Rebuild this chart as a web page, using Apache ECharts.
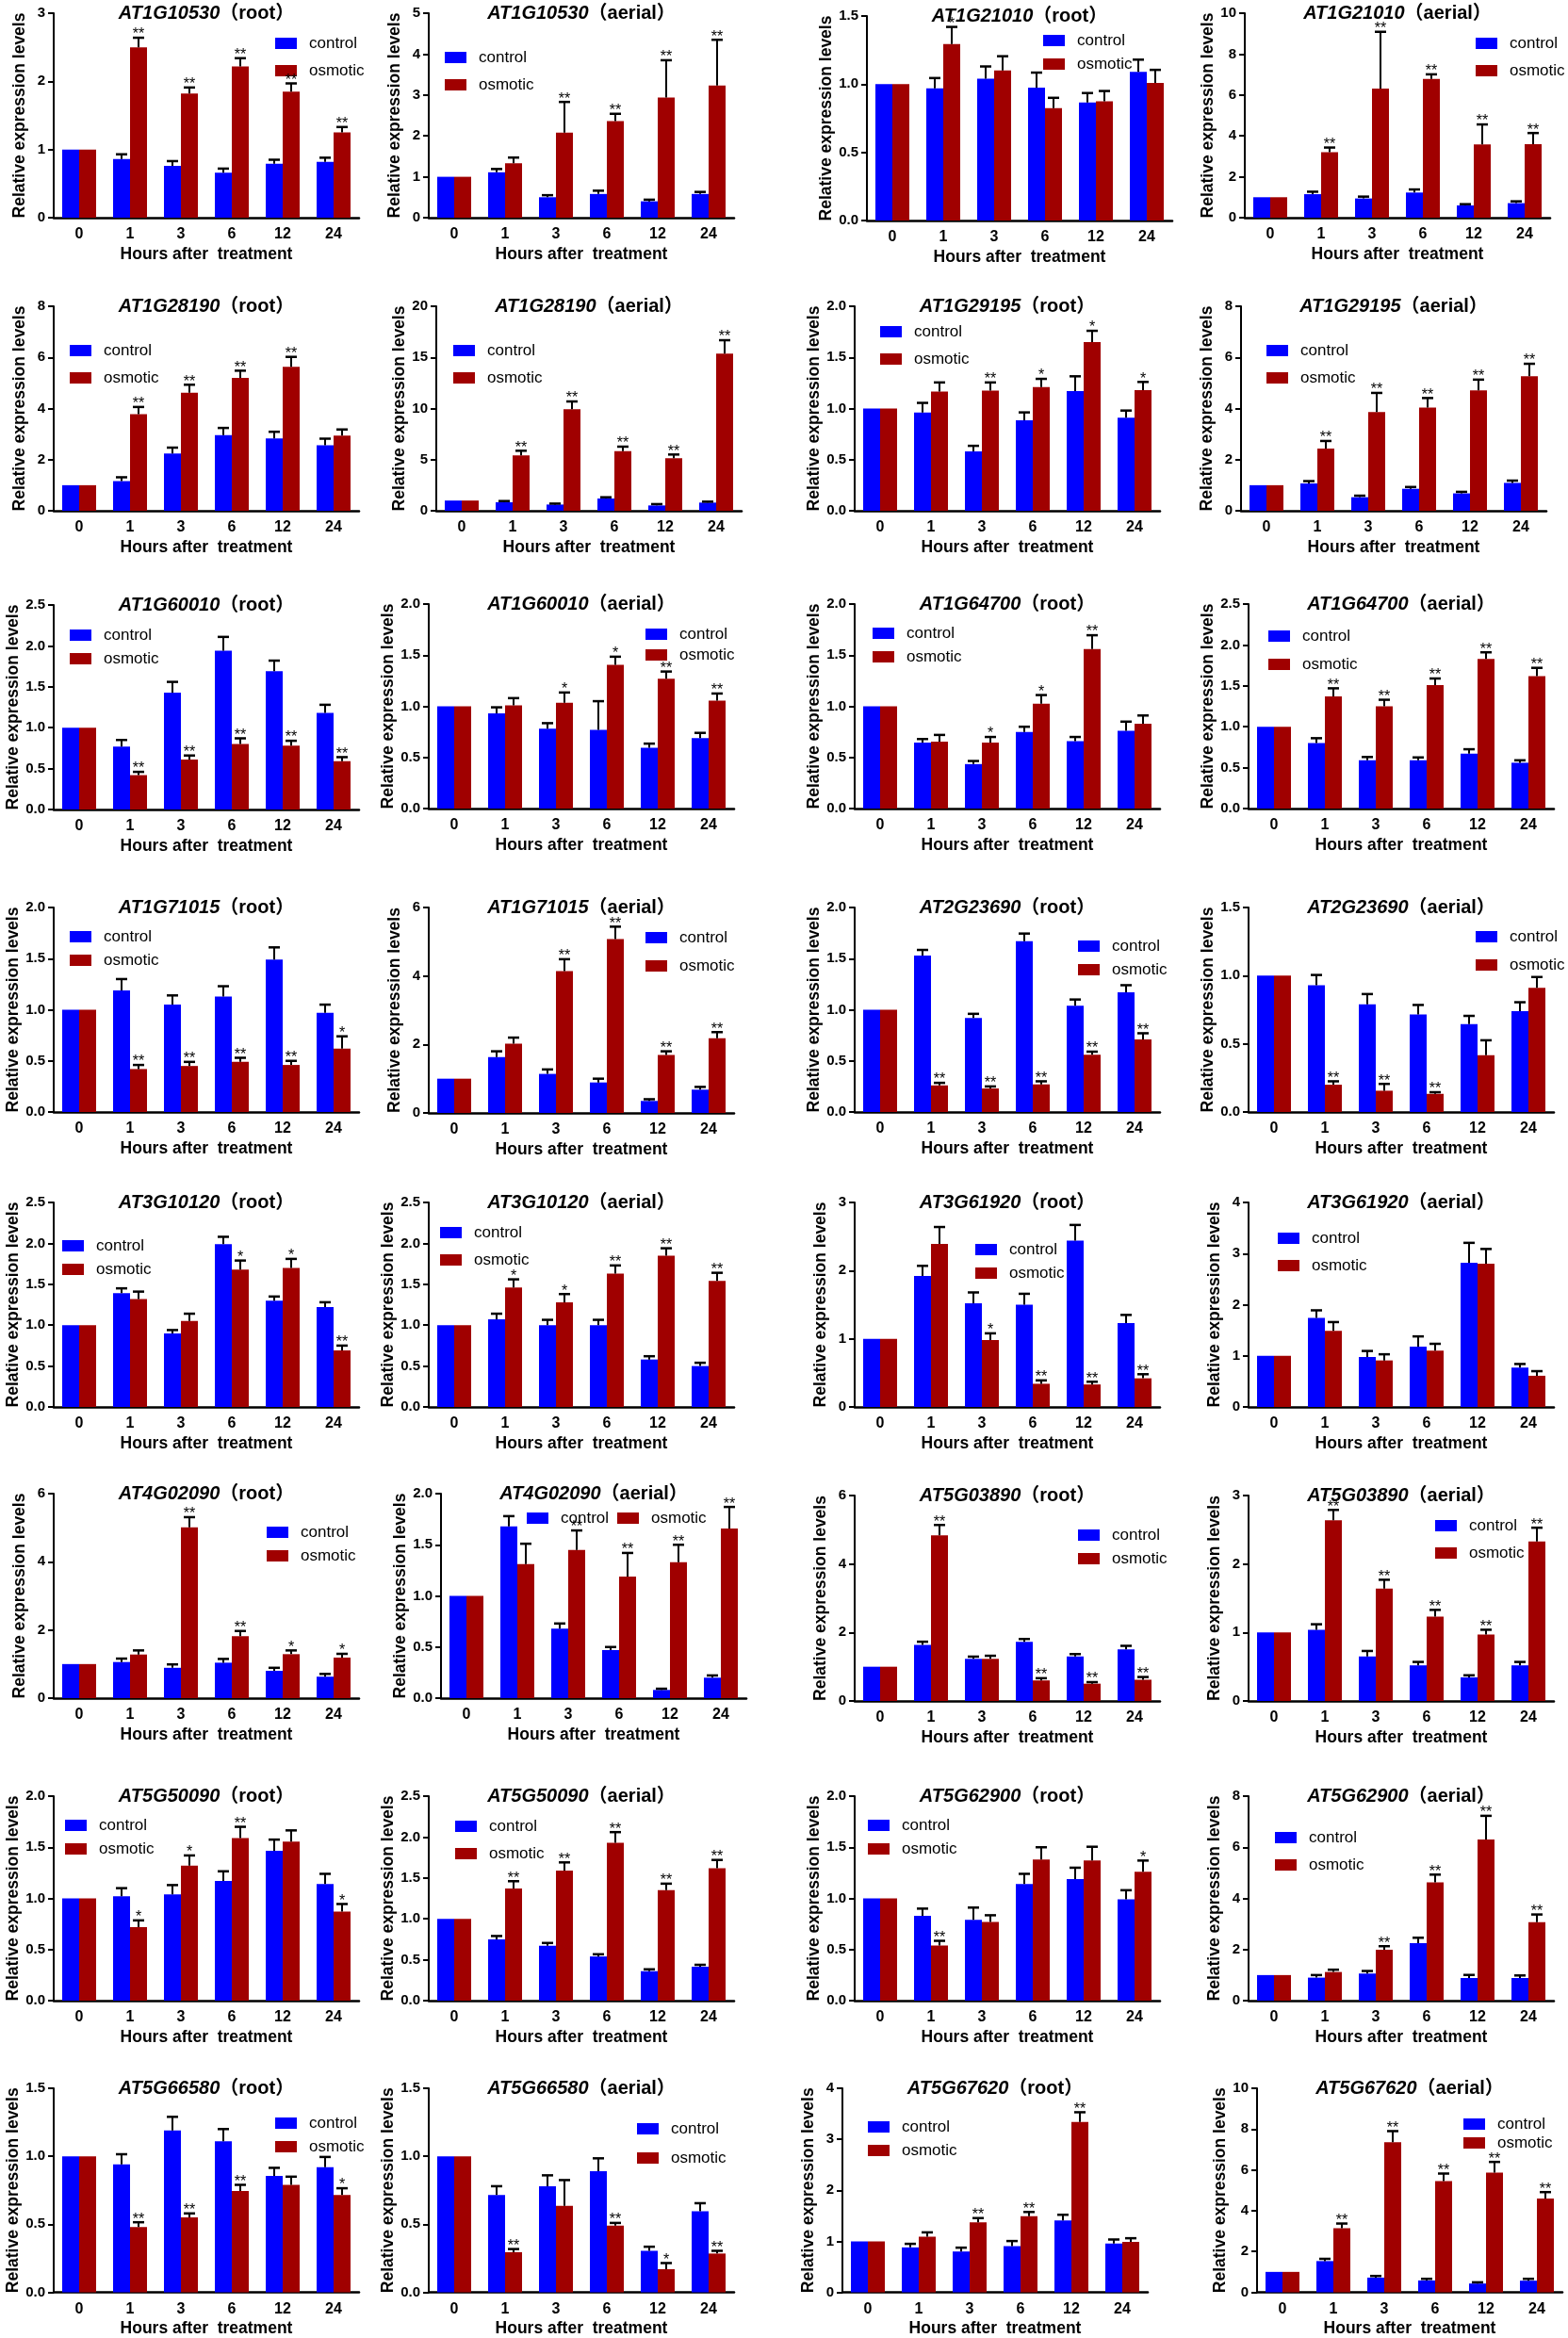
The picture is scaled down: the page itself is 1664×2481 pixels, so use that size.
<!DOCTYPE html>
<html><head><meta charset="utf-8">
<script src="https://cdn.jsdelivr.net/npm/echarts@6/dist/echarts.min.js"></script>
<style>html,body{margin:0;padding:0;background:#fff}#c{width:1664px;height:2481px}</style>
</head><body><div id="c"></div>
<script>
// ---------------- DATA ----------------
const hours = ['0', '1', '3', '6', '12', '24'];
const genes = ['AT1G10530','AT1G10530','AT1G21010','AT1G21010','AT1G28190','AT1G28190','AT1G29195','AT1G29195',
  'AT1G60010','AT1G60010','AT1G64700','AT1G64700','AT1G71015','AT1G71015','AT2G23690','AT2G23690',
  'AT3G10120','AT3G10120','AT3G61920','AT3G61920','AT4G02090','AT4G02090','AT5G03890','AT5G03890',
  'AT5G50090','AT5G50090','AT5G62900','AT5G62900','AT5G66580','AT5G66580','AT5G67620','AT5G67620'];
const tissues = ['root','aerial','root','aerial','root','aerial','root','aerial','root','aerial','root','aerial',
  'root','aerial','root','aerial','root','aerial','root','aerial','root','aerial','root','aerial',
  'root','aerial','root','aerial','root','aerial','root','aerial'];
const yMax = [3,5,1.5,10, 8,20,2,8, 2.5,2,2,2.5, 2,6,2,1.5, 2.5,2.5,3,4, 6,2,6,3, 2,2.5,2,8, 1.5,1.5,4,10];
const yStep = [1,1,0.5,2, 2,5,0.5,2, 0.5,0.5,0.5,0.5, 0.5,2,0.5,0.5, 0.5,0.5,1,1, 2,0.5,2,1, 0.5,0.5,0.5,2, 0.5,0.5,1,2];

const controlMean = [
  [1,0.86,0.76,0.66,0.79,0.82],[1,1.11,0.50,0.58,0.40,0.58],[1,0.97,1.04,0.975,0.865,1.09],[1,1.15,0.94,1.23,0.60,0.71],
  [1,1.16,2.24,2.96,2.83,2.56],[1,0.83,0.61,1.20,0.52,0.80],[1,0.96,0.58,0.885,1.17,0.91],[1,1.07,0.53,0.86,0.68,1.09],
  [1,0.77,1.43,1.94,1.69,1.18],[1,0.93,0.78,0.77,0.595,0.69],[1,0.645,0.435,0.75,0.66,0.76],[1,0.80,0.59,0.59,0.67,0.56],
  [1,1.19,1.05,1.13,1.49,0.97],[1,1.63,1.14,0.89,0.35,0.68],[1,1.53,0.92,1.67,1.04,1.17],[1,0.93,0.79,0.715,0.645,0.74],
  [1,1.39,0.90,1.99,1.30,1.22],[1,1.07,1.00,1.00,0.58,0.50],[1,1.92,1.52,1.50,2.44,1.23],[1,1.74,0.975,1.18,2.82,0.77],
  [1,1.06,0.89,1.04,0.80,0.63],[1,1.68,0.68,0.47,0.08,0.20],[1,1.64,1.23,1.73,1.30,1.51],[1,1.04,0.65,0.52,0.345,0.52],
  [1,1.02,1.04,1.17,1.465,1.14],[1,0.75,0.67,0.54,0.36,0.415],[1,0.83,0.79,1.14,1.19,0.99],[1,0.90,1.06,2.25,0.885,0.885],
  [1,0.94,1.19,1.11,0.855,0.92],[1,0.715,0.78,0.89,0.305,0.595],[1,0.88,0.80,0.905,1.41,0.955],[1,1.53,0.72,0.58,0.43,0.57]
];
const controlErr = [
  [0,0.07,0.07,0.06,0.06,0.06],[0,0.08,0.05,0.08,0.04,0.05],[0,0.075,0.09,0.11,0.07,0.09],[0,0.12,0.09,0.15,0.06,0.09],
  [0,0.15,0.23,0.28,0.26,0.26],[0,0.12,0.09,0.12,0.13,0.09],[0,0.095,0.055,0.077,0.145,0.07],[0,0.09,0.06,0.07,0.06,0.09],
  [0,0.08,0.13,0.17,0.13,0.10],[0,0.06,0.055,0.28,0.04,0.05],[0,0.035,0.03,0.05,0.04,0.09],[0,0.06,0.04,0.035,0.055,0.03],
  [0,0.11,0.09,0.10,0.12,0.08],[0,0.17,0.13,0.11,0.05,0.08],[0,0.055,0.04,0.075,0.06,0.07],[0,0.075,0.075,0.07,0.06,0.065],
  [0,0.06,0.04,0.09,0.05,0.06],[0,0.07,0.065,0.065,0.04,0.04],[0,0.15,0.16,0.16,0.23,0.12],[0,0.15,0.12,0.20,0.39,0.07],
  [0,0.10,0.10,0.11,0.09,0.08],[0,0.10,0.05,0.03,0.012,0.022],[0,0.09,0.065,0.08,0.07,0.10],[0,0.08,0.08,0.05,0.03,0.05],
  [0,0.08,0.09,0.095,0.11,0.10],[0,0.04,0.035,0.027,0.023,0.023],[0,0.07,0.12,0.10,0.11,0.09],[0,0.10,0.10,0.21,0.12,0.10],
  [0,0.075,0.10,0.09,0.06,0.075],[0,0.065,0.08,0.095,0.03,0.06],[0,0.07,0.075,0.10,0.11,0.08],[0,0.11,0.08,0.08,0.06,0.09]
];
const osmoticMean = [
  [1,2.50,1.82,2.22,1.85,1.25],[1,1.33,2.08,2.36,2.94,3.23],[1,1.295,1.10,0.825,0.875,1.01],[1,3.20,6.31,6.79,3.58,3.59],
  [1,3.78,4.62,5.20,5.63,2.94],[1,5.41,9.92,5.84,5.13,15.36],[1,1.165,1.175,1.21,1.65,1.18],[1,2.43,3.86,4.04,4.71,5.26],
  [1,0.42,0.61,0.80,0.78,0.59],[1,1.01,1.035,1.405,1.27,1.055],[1,0.655,0.645,1.025,1.56,0.83],[1,1.37,1.25,1.51,1.83,1.62],
  [1,0.42,0.45,0.49,0.46,0.62],[1,2.02,4.14,5.08,1.69,2.18],[1,0.26,0.23,0.27,0.56,0.71],[1,0.20,0.156,0.133,0.416,0.91],
  [1,1.32,1.05,1.68,1.70,0.69],[1,1.46,1.28,1.63,1.85,1.54],[1,2.39,0.98,0.34,0.33,0.42],[1,1.49,0.91,1.10,2.80,0.61],
  [1,1.28,5.01,1.82,1.29,1.19],[1,1.31,1.45,1.19,1.33,1.66],[1,4.84,1.23,0.60,0.505,0.62],[1,2.64,1.64,1.23,0.97,2.33],
  [1,0.72,1.32,1.59,1.555,0.87],[1,1.37,1.59,1.93,1.35,1.62],[1,0.54,0.77,1.38,1.37,1.26],[1,1.12,1.99,4.63,6.30,3.07],
  [1,0.48,0.55,0.745,0.79,0.715],[1,0.295,0.635,0.49,0.17,0.285],[1,1.09,1.37,1.49,3.34,0.99],[1,3.14,7.35,5.45,5.87,4.60]
];
const osmoticErr = [
  [0,0.14,0.09,0.12,0.12,0.08],[0,0.14,0.75,0.18,0.91,1.12],[0,0.125,0.105,0.075,0.075,0.095],[0,0.23,2.78,0.22,0.98,0.55],
  [0,0.28,0.31,0.28,0.39,0.24],[0,0.46,0.77,0.43,0.37,1.32],[0,0.09,0.08,0.08,0.11,0.08],[0,0.30,0.75,0.37,0.42,0.49],
  [0,0.04,0.05,0.07,0.06,0.05],[0,0.07,0.10,0.08,0.07,0.07],[0,0.065,0.055,0.085,0.135,0.08],[0,0.10,0.08,0.08,0.08,0.10],
  [0,0.04,0.04,0.04,0.04,0.12],[0,0.18,0.35,0.36,0.11,0.18],[0,0.025,0.02,0.03,0.03,0.06],[0,0.025,0.05,0.012,0.11,0.08],
  [0,0.09,0.09,0.11,0.11,0.06],[0,0.10,0.10,0.10,0.09,0.10],[0,0.25,0.10,0.05,0.04,0.06],[0,0.17,0.12,0.135,0.29,0.09],
  [0,0.12,0.30,0.15,0.11,0.11],[0,0.20,0.19,0.23,0.17,0.21],[0,0.30,0.09,0.065,0.045,0.08],[0,0.15,0.13,0.10,0.07,0.20],
  [0,0.065,0.10,0.11,0.11,0.075],[0,0.09,0.10,0.13,0.08,0.10],[0,0.045,0.065,0.12,0.135,0.11],[0,0.09,0.14,0.30,0.93,0.30],
  [0,0.035,0.03,0.045,0.06,0.05],[0,0.023,0.19,0.02,0.045,0.02],[0,0.085,0.085,0.085,0.19,0.07],[0,0.23,0.55,0.37,0.52,0.31]
];
const osmoticSig = [
  ['','**','**','**','**','**'],['','','**','**','**','**'],['','*','','','',''],['','**','**','**','**','**'],
  ['','**','**','**','**',''],['','**','**','**','**','**'],['','','**','*','*','*'],['','**','**','**','**','**'],
  ['','**','**','**','**','**'],['','','*','*','**','**'],['','','*','*','**',''],['','**','**','**','**','**'],
  ['','**','**','**','**','*'],['','','**','**','**','**'],['','**','**','**','**','**'],['','**','**','**','',''],
  ['','','','*','*','**'],['','*','*','**','**','**'],['','','*','**','**','**'],['','','','','',''],
  ['','','**','**','*','*'],['','','**','**','**','**'],['','**','','**','**','**'],['','**','**','**','**','**'],
  ['','*','*','**','','*'],['','**','**','**','**','**'],['','**','','','','*'],['','','**','**','**','**'],
  ['','**','**','**','','*'],['','**','','**','*','**'],['','','**','**','**',''],['','**','**','**','**','**']
];

// ---------------- LAYOUT (pixels) ----------------
// [center of first category, plot top, plot bottom]
const panelLayout = [
  [84,14,231],[482,14,231],[947,17,234],[1348,14,231],
  [84,325,542],[490,325,542],[934,325,542],[1344,325,542],
  [84,642,859],[482,641,858],[934,641,858],[1352,641,858],
  [84,963,1180],[482,963,1181],[934,963,1180],[1352,963,1180],
  [84,1276,1493],[482,1276,1493],[934,1276,1493],[1352,1276,1493],
  [84,1585,1802],[495,1585,1802],[934,1587,1805],[1352,1587,1805],
  [84,1906,2123],[482,1906,2123],[934,1906,2123],[1352,1906,2123],
  [84,2216,2433],[482,2216,2433],[921,2216,2433],[1361,2216,2433]
];
// [box left, control box centre y, osmotic box centre y, horizontal]
const legendLayout = [
  [292,46,75],[472,61,90],[1107,43,68],[1566,46,75],
  [74,372,401],[481,372,401],[934,352,381],[1344,372,401],
  [74,674,699],[685,673,695],[926,672,697],[1346,675,705],
  [74,994,1019],[685,995,1025],[1144,1004,1029],[1566,994,1024],
  [66,1322,1347],[467,1308,1337],[1035,1326,1351],[1356,1314,1343],
  [283,1626,1651],[559,1611,1611,true],[1144,1629,1654],[1523,1619,1648],
  [69,1937,1962],[483,1938,1967],[921,1937,1962],[1353,1950,1979],
  [292,2253,2278],[676,2259,2290],[921,2257,2282],[1553,2254,2274]
];

const FONT = "'Liberation Sans', Arial, 'Noto Sans CJK SC', sans-serif";
const BLUE = '#0000FF', RED = '#A00000';
const BAND = 54, BARW = 18;

function errSeries(p, means, errs, sig, side) {
  return {
    type: 'custom', xAxisIndex: p, yAxisIndex: p, z: 5, silent: true,
    data: means.map((m, i) => [i, m, m + errs[i]]),
    renderItem(params, api) {
      const i = api.value(0), m = api.value(1), t = api.value(2);
      const pb = api.coord([i, m]), pt = api.coord([i, t]);
      const x = pb[0] + side * BARW / 2;
      const children = [];
      if (t > m) {
        children.push({type: 'line', shape: {x1: x, y1: pb[1], x2: x, y2: pt[1]}, style: {stroke: '#000', lineWidth: 2}});
        children.push({type: 'line', shape: {x1: x - 6, y1: pt[1], x2: x + 6, y2: pt[1]}, style: {stroke: '#000', lineWidth: 2.5}});
      }
      const s = sig ? sig[i] : '';
      if (s) {
        children.push({type: 'text', x: x, y: pt[1] + 5,
          style: {text: s, fill: '#000', font: '16px ' + FONT, align: 'center', verticalAlign: 'bottom'}});
      }
      return {type: 'group', children};
    }
  };
}

const grids = [], xAxes = [], yAxes = [], series = [], titles = [], legends = [];
for (let p = 0; p < 32; p++) {
  const [c0, top, bottom] = panelLayout[p];
  const left = c0 - BAND / 2;
  const width = BAND * 6;
  grids.push({left, top, width, height: bottom - top});
  xAxes.push({
    gridIndex: p, type: 'category', data: hours,
    axisLine: {lineStyle: {color: '#000', width: 2.5}},
    axisTick: {alignWithLabel: true, length: 8, lineStyle: {color: '#000', width: 2}},
    axisLabel: {color: '#000', fontWeight: 'bold', fontSize: 16, fontFamily: FONT, margin: 10},
    name: 'Hours after  treatment', nameLocation: 'middle', nameGap: 30,
    nameTextStyle: {color: '#000', fontWeight: 'bold', fontSize: 17.5, fontFamily: FONT}
  });
  const step = yStep[p];
  yAxes.push({
    gridIndex: p, type: 'value', min: 0, max: yMax[p], interval: step,
    axisLine: {show: true, lineStyle: {color: '#000', width: 2}},
    axisTick: {show: true, length: 6, lineStyle: {color: '#000', width: 2}},
    splitLine: {show: false},
    axisLabel: {color: '#000', fontWeight: 'bold', fontSize: 15, fontFamily: FONT, margin: 9,
      formatter: v => step < 1 ? v.toFixed(1) : String(v)},
    name: 'Relative expression levels', nameLocation: 'middle', nameGap: 27,
    nameTextStyle: {color: '#000', fontWeight: 'bold', fontSize: 17.5, fontFamily: FONT}
  });
  series.push({type: 'bar', name: 'control', xAxisIndex: p, yAxisIndex: p, data: controlMean[p],
    barWidth: BARW, barGap: '0%', itemStyle: {color: BLUE}, silent: true});
  series.push({type: 'bar', name: 'osmotic', xAxisIndex: p, yAxisIndex: p, data: osmoticMean[p],
    barWidth: BARW, barGap: '0%', itemStyle: {color: RED}, silent: true});
  series.push(errSeries(p, controlMean[p], controlErr[p], null, -1));
  series.push(errSeries(p, osmoticMean[p], osmoticErr[p], osmoticSig[p], 1));

  titles.push({
    text: '{g|' + genes[p] + '}{t|（' + tissues[p] + '）}',
    left: left + width / 2, top: top, textAlign: 'center', textVerticalAlign: 'middle', padding: 0,
    textStyle: {rich: {
      g: {fontStyle: 'italic', fontWeight: 'bold', fontSize: 20, fontFamily: FONT, lineHeight: 24, color: '#000'},
      t: {fontWeight: 'bold', fontSize: 20, fontFamily: FONT, lineHeight: 24, color: '#000'}
    }}
  });

  const [lx, ly1, ly2, horiz] = legendLayout[p];
  legends.push({
    data: ['control', 'osmotic'], orient: horiz ? 'horizontal' : 'vertical',
    left: lx, top: ly1 - 10, itemGap: horiz ? 9 : (ly2 - ly1 - 20), padding: 0,
    icon: 'rect', itemWidth: 23, itemHeight: 12, selectedMode: false,
    textStyle: {fontSize: 17, lineHeight: 20, color: '#000', fontFamily: FONT, padding: [0, 0, 0, 8]}
  });
}

const chart = echarts.init(document.getElementById('c'));
chart.setOption({
  animation: false, backgroundColor: '#fff',
  title: titles, legend: legends, grid: grids, xAxis: xAxes, yAxis: yAxes, series: series
});
</script></body></html>
